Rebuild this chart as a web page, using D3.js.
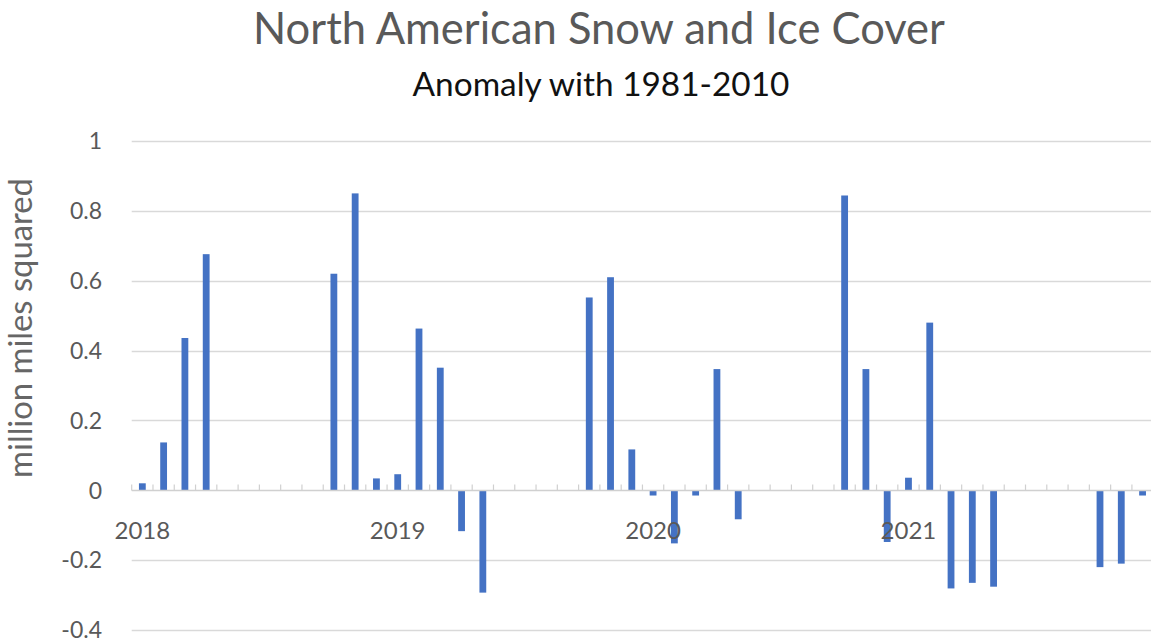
<!DOCTYPE html>
<html>
<head>
<meta charset="utf-8">
<script src="https://cdn.jsdelivr.net/npm/d3@7"></script>
<style>
  html, body { margin: 0; padding: 0; background: #fff; }
  svg { display: block; }
  text { font-family: Lato, "Open Sans", sans-serif; }
</style>
</head>
<body>
<svg id="chart" width="1151" height="641"></svg>
<script>
// Monthly snow & ice cover anomaly (million sq. miles), Jan 2018 – Dec 2021.
// Summer months without data are null.
const years = ["2018", "2019", "2020", "2021"];
const months = years.flatMap(y => d3.range(1, 13).map(m => `${y}-${String(m).padStart(2, "0")}`));
const anomaly2018 = [0.02, 0.137, 0.436, 0.676, null, null, null, null, null, 0.62, 0.85, 0.034];
const anomaly2019 = [0.046, 0.463, 0.351, -0.117, -0.293, null, null, null, null, 0.552, 0.61, 0.117];
const anomaly2020 = [-0.015, -0.152, -0.015, 0.347, -0.083, null, null, null, null, 0.844, 0.347, -0.148];
const anomaly2021 = [0.036, 0.48, -0.281, -0.265, -0.276, null, null, null, null, -0.22, -0.21, -0.015];
const values = [...anomaly2018, ...anomaly2019, ...anomaly2020, ...anomaly2021];
const yTicks = [-0.4, -0.2, 0, 0.2, 0.4, 0.6, 0.8, 1];
const yTickLabels = ["-0.4", "-0.2", "0", "0.2", "0.4", "0.6", "0.8", "1"];

const title = "North American Snow and Ice Cover";
const subtitle = "Anomaly with 1981-2010";
const yTitle = "million miles squared";

const svg = d3.select("#chart");
const W = 1151, H = 641;
const plot = { left: 131.7, right: 1153.2, top: 141, bottom: 630 };

const x = d3.scaleBand().domain(months).range([plot.left, plot.right]).paddingInner(0.68).paddingOuter(0.34);
const y = d3.scaleLinear().domain([-0.4, 1]).range([plot.bottom, plot.top]);

// Horizontal gridlines
svg.append("g").selectAll("line").data(yTicks.filter(t => t !== 0)).join("line")
  .attr("x1", plot.left).attr("x2", W)
  .attr("y1", d => Math.round(y(d)) + 0.5).attr("y2", d => Math.round(y(d)) + 0.5)
  .attr("stroke", "#d9d9d9").attr("stroke-width", 1.5);

// Y tick labels
svg.append("g").selectAll("text").data(yTicks).join("text")
  .attr("x", 102).attr("y", d => y(d)).attr("dy", "0.36em")
  .attr("text-anchor", "end").attr("fill", "#595959").attr("font-size", 23)
  .text((d, i) => yTickLabels[i]);

// Bars
const data = months.map((m, i) => ({ m, v: values[i] })).filter(d => d.v !== null);
svg.append("g").selectAll("rect").data(data).join("rect")
  .attr("x", d => x(d.m)).attr("width", x.bandwidth())
  .attr("y", d => y(Math.max(0, d.v)))
  .attr("height", d => Math.abs(y(d.v) - y(0)))
  .attr("fill", "#4472c4");

// Category axis along zero, with ticks between months
const y0 = Math.round(y(0)) + 0.5;
svg.append("line").attr("x1", plot.left).attr("x2", W).attr("y1", y0).attr("y2", y0)
  .attr("stroke", "#d0d0d0").attr("stroke-width", 1.5);
const step = x.step();
svg.append("g").selectAll("line").data(d3.range(months.length + 1)).join("line")
  .attr("x1", i => plot.left + i * step).attr("x2", i => plot.left + i * step)
  .attr("y1", y0).attr("y2", y0 - 6)
  .attr("stroke", "#d0d0d0").attr("stroke-width", 1.2);

// Year labels under January of each year
svg.append("g").selectAll("text").data(years).join("text")
  .attr("x", d => x(`${d}-01`) + x.bandwidth() / 2).attr("y", 530).attr("dy", "0.36em")
  .attr("text-anchor", "middle").attr("fill", "#595959").attr("font-size", 24)
  .text(d => d);

// Titles
function fitText(sel, width) {
  const len = sel.node().getComputedTextLength();
  const fs = parseFloat(sel.attr("font-size"));
  sel.attr("font-size", fs * width / len);
}
const t1 = svg.append("text").attr("x", 599).attr("y", 44).attr("text-anchor", "middle")
  .attr("fill", "#595959").attr("font-size", 38).text(title);
fitText(t1, 692);
const t2 = svg.append("text").attr("x", 601).attr("y", 96).attr("text-anchor", "middle")
  .attr("fill", "#111").attr("font-size", 24).text(subtitle);
fitText(t2, 377);

// Y axis title
const t3 = svg.append("text").attr("transform", "translate(32,328) rotate(-90)")
  .attr("text-anchor", "middle").attr("fill", "#666").attr("font-size", 22).text(yTitle);
fitText(t3, 300);
</script>
</body>
</html>
